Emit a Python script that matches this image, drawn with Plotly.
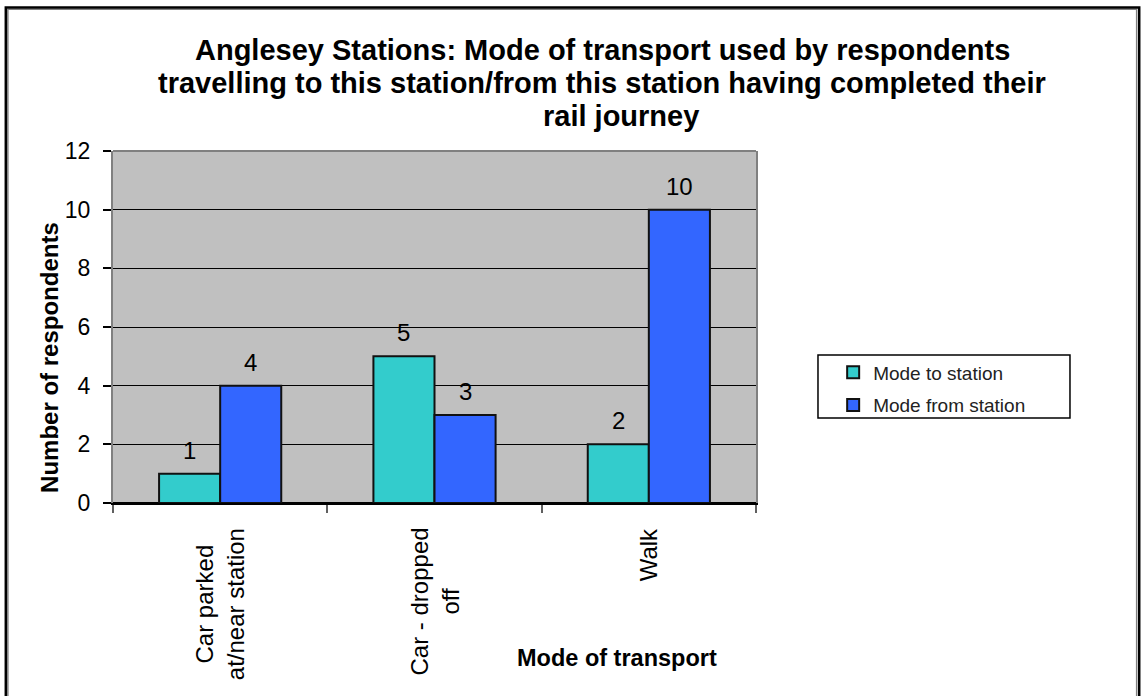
import plotly.graph_objects as go

# Survey results: mode of transport to / from the Anglesey stations
categories = ["Car parked<br>at/near station", "Car - dropped<br>off", "Walk"]
mode_to_station = [1, 5, 2]
mode_from_station = [4, 3, 10]
series_names = ["Mode to station", "Mode from station"]
y_ticks = [0, 2, 4, 6, 8, 10, 12]
title_lines = [
    "Anglesey Stations: Mode of transport used by respondents",
    "travelling to this station/from this station having completed their",
    "rail journey",
]

TEAL = "#33CCCC"
BLUE = "#3366FF"
PLOT_BG = "#C0C0C0"
FONT = "Liberation Sans, Arial, sans-serif"

pos = list(range(len(categories)))
bar_w = 0.285

fig = go.Figure()
for vals, name, color, off in [
    (mode_to_station, series_names[0], TEAL, -bar_w),
    (mode_from_station, series_names[1], BLUE, 0.0),
]:
    fig.add_trace(go.Bar(
        x=pos, y=vals, width=bar_w, offset=off, name=name,
        legendgroup=name,
        marker=dict(color=color, line=dict(color="#111111", width=2)),
    ))

annotations = []
# value labels above each bar
for vals, off in [(mode_to_station, -bar_w / 2), (mode_from_station, bar_w / 2)]:
    for p, v in zip(pos, vals):
        annotations.append(dict(
            x=p + off, y=v, xref="x", yref="y", text=str(v), showarrow=False,
            yanchor="bottom", yshift=8, font=dict(family=FONT, size=24, color="black"),
        ))

# rotated category labels under the axis
for p, c in zip(pos, categories):
    annotations.append(dict(
        x=p, y=0, xref="x", yref="y", text=c, showarrow=False, textangle=-90,
        xanchor="center", yanchor="top", yshift=-23, align="center",
        font=dict(family=FONT, size=24, color="black"),
    ))

# chart title, one line per annotation for tighter line spacing
for line, tx, ty in zip(title_lines, [0.7605, 0.7605, 0.79], [1.287, 1.193, 1.099]):
    annotations.append(dict(
        x=tx, y=ty, xref="paper", yref="paper", text="<b>%s</b>" % line,
        showarrow=False, xanchor="center", yanchor="middle",
        font=dict(family=FONT, size=29, color="black"),
    ))

# axis titles
annotations.append(dict(
    x=-0.098, y=0.415, xref="paper", yref="paper", text="<b>Number of respondents</b>",
    showarrow=False, textangle=-90, xanchor="center", yanchor="middle",
    font=dict(family=FONT, size=24, color="black"),
))
annotations.append(dict(
    x=0.784, y=-0.44, xref="paper", yref="paper", text="<b>Mode of transport</b>",
    showarrow=False, xanchor="center", yanchor="middle",
    font=dict(family=FONT, size=23.5, color="black"),
))

shapes = [
    # top edge of the plot area
    dict(type="line", xref="paper", yref="paper", x0=0, x1=1, y0=1, y1=1,
         line=dict(color="#808080", width=2), layer="above"),
    # legend frame
    dict(type="rect", xref="paper", yref="paper", x0=1.0964, x1=1.4883, y0=0.2415, y1=0.4205,
         line=dict(color="black", width=1.5)),
    # outer chart frame
    dict(type="rect", xref="paper", yref="paper", x0=-0.1635, x1=1.592, y0=-0.6, y1=1.403,
         line=dict(color="#808080", width=1.5)),
    dict(type="rect", xref="paper", yref="paper", x0=-0.1667, x1=1.596, y0=-0.6, y1=1.408,
         line=dict(color="black", width=2.5)),
]

fig.update_layout(
    width=1142, height=696,
    margin=dict(l=113, r=386, t=151, b=193),
    paper_bgcolor="white", plot_bgcolor=PLOT_BG,
    font=dict(family=FONT, color="black"),
    bargap=0.43,
    xaxis=dict(
        range=[-0.5, len(categories) - 0.5],
        tickvals=[p - 0.5 for p in pos] + [len(categories) - 0.5],
        showticklabels=False, ticks="outside", ticklen=8, tickcolor="#606060", tickwidth=2,
        showgrid=False, zeroline=False,
        showline=True, linecolor="black", linewidth=2,
    ),
    yaxis=dict(
        range=[0, 12], tickvals=y_ticks, ticks="outside", ticklen=8, tickcolor="black",
        tickwidth=1.5, ticklabelstandoff=8,
        tickfont=dict(family=FONT, size=23, color="black"),
        showgrid=True, gridcolor="black", gridwidth=1,
        zeroline=True, zerolinecolor="black", zerolinewidth=2,
        showline=True, linecolor="#808080", linewidth=2, mirror=True,
    ),
    legend=dict(
        x=1.12, y=0.425, xanchor="left", yanchor="top",
        bgcolor="rgba(0,0,0,0)", borderwidth=0,
        font=dict(family=FONT, size=19, color="#222222"),
        tracegroupgap=5, traceorder="grouped",
    ),
    annotations=annotations,
    shapes=shapes,
)

fig.write_html("out.html")
